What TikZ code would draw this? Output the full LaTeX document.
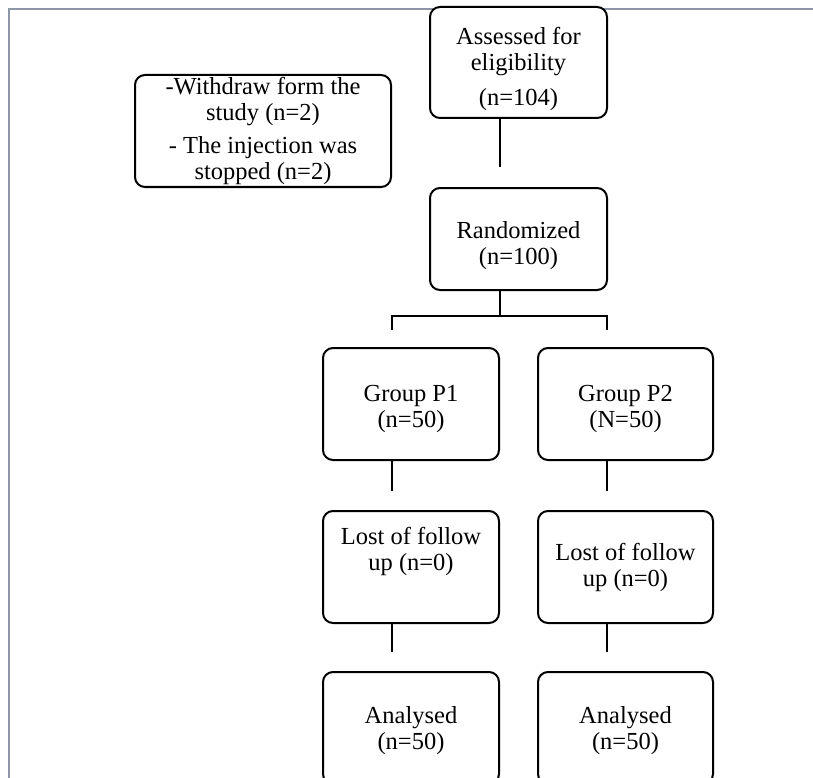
\documentclass[tikz,border=0pt]{standalone}
\usepackage{fontspec}
\setmainfont{Liberation Serif}
\usetikzlibrary{positioning}
\definecolor{framegray}{RGB}{140,150,166}
\newcommand{\toppad}[1]{\rule{0pt}{#1}}

\begin{document}
\begin{tikzpicture}[line width=2pt, main/.style = {draw, fill=white, rounded corners=10pt, align=center, minimum width=176pt, minimum height=112pt, inner sep=2pt, font=\fontsize{24.5}{26}\selectfont}]
    \useasboundingbox (0pt,0pt) rectangle (813pt,-778pt);
    \clip (0pt,0pt) rectangle (813pt,-778pt);
    \draw[framegray] (9pt,-778pt) |- (813pt,-9pt);

    \node[main, minimum width=177pt, minimum height=111pt](1) at (518.5pt,-62.5pt) {\toppad{31pt}Assessed for\\eligibility\\[9pt](n=104)};
    \node[main, minimum width=177pt, minimum height=102pt](2)[below=68pt of 1] {\toppad{31pt}Randomized\\(n=100)};
    \node[main](3)[below=56pt of 2, xshift=-107.5pt] {\toppad{27pt}Group P1\\(n=50)};
    \node[main, minimum width=175pt](4)[right=37pt of 3] {\toppad{27pt}Group P2\\(N=50)};
    \node[main](5)[below=49pt of 3] {Lost of follow\\up (n=0)\\[10pt]~};
    \node[main, minimum width=175pt](6)[below=49pt of 4] {Lost of follow\\up (n=0)};
    \node[main](7)[below=47pt of 5] {\toppad{23pt}Analysed\\(n=50)};
    \node[main, minimum width=175pt](8)[below=47pt of 6] {\toppad{23pt}Analysed\\(n=50)};
    \node[main, minimum width=256pt](9)[left=37pt of 1, yshift=-68.5pt] {-Withdraw form the\\study (n=2)\\[7pt]- The injection was\\stopped (n=2)};

    \draw ([xshift=-18.5pt]1.south) -- ([xshift=-18.5pt, yshift=20pt]2.north);
    \draw ([xshift=-18.5pt]2.south) -- ++(0pt,-25pt) coordinate (split);
    \draw ([xshift=-19pt, yshift=17pt]3.north) |- (split) -| ([xshift=-18.5pt, yshift=17pt]4.north);
    \draw ([xshift=-19pt]3.south) -- ([xshift=-19pt, yshift=19pt]5.north);
    \draw ([xshift=-18.5pt]4.south) -- ([xshift=-18.5pt, yshift=19pt]6.north);
    \draw ([xshift=-19pt]5.south) -- ([xshift=-19pt, yshift=19pt]7.north);
    \draw ([xshift=-18.5pt]6.south) -- ([xshift=-18.5pt, yshift=19pt]8.north);

\end{tikzpicture}
\end{document}
